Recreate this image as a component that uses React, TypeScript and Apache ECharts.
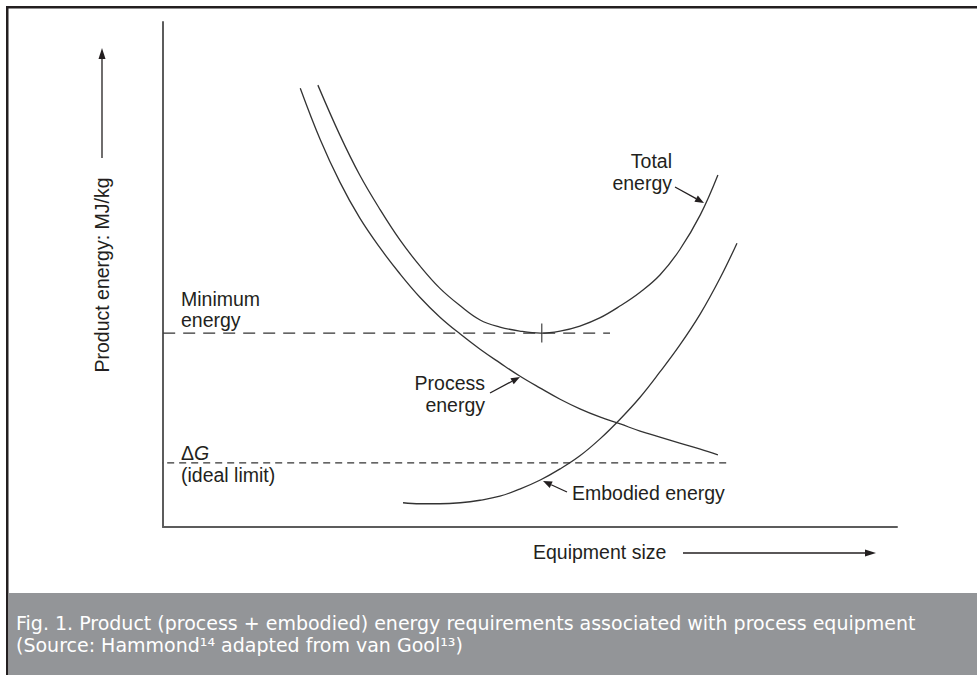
import React, { useEffect, useRef } from 'react';
import * as echarts from 'echarts';

// Curve values in arbitrary units (x: equipment size 0–100, y: product energy 0–100)
const processEnergy: [number, number][] = [
  [18.7, 86.9], [21.4, 76.8], [24.1, 68.3], [26.8, 61.2], [29.6, 55.2], [32.3, 50.1],
  [35.0, 45.5], [37.7, 41.6], [40.5, 38.2], [43.2, 35.2], [45.9, 32.5], [48.6, 29.9],
  [51.4, 27.5], [54.1, 25.3], [56.8, 23.4], [59.5, 21.8], [62.3, 20.4], [65.0, 19.0],
  [67.7, 17.8], [70.4, 16.6], [73.2, 15.4], [75.6, 14.3],
];
const totalEnergy: [number, number][] = [
  [21.1, 87.5], [24.1, 77.6], [26.8, 69.7], [29.6, 62.8], [32.3, 56.8], [35.0, 51.7],
  [37.7, 47.3], [40.5, 43.8], [43.2, 41.0], [45.9, 39.6], [48.6, 38.8], [51.4, 38.4],
  [54.1, 38.8], [56.8, 39.8], [59.5, 41.4], [62.3, 43.8], [65.0, 46.5], [67.7, 49.9],
  [70.4, 54.9], [73.2, 61.8], [75.6, 69.7],
];
const embodiedEnergy: [number, number][] = [
  [32.7, 4.8], [35.0, 4.6], [37.7, 4.6], [40.5, 4.8], [43.2, 5.3], [45.9, 6.1],
  [48.6, 7.5], [51.4, 9.3], [54.1, 11.5], [56.8, 14.1], [59.5, 17.4], [62.3, 21.4],
  [65.0, 25.7], [67.7, 30.7], [70.4, 36.0], [73.2, 42.2], [75.9, 49.3], [78.2, 56.2],
];
const minimumEnergyLine: [number, number][] = [[-2.7, 38.4], [60.9, 38.4]];
const idealLimitLine: [number, number][] = [[-2.7, 12.7], [77.2, 12.7]];
const minimumPoint: [number, number][] = [[51.6, 38.4]];

const yAxisTitle = 'Product energy: MJ/kg';
const xAxisTitle = 'Equipment size';
const captionLine1 = 'Fig. 1. Product (process + embodied) energy requirements associated with process equipment';
const captionLine2 = '(Source: Hammond¹⁴ adapted from van Gool¹³)';

const INK = '#231f20';
const FONT = '"Liberation Sans", Arial, sans-serif';
const CAPTION_FONT = '"DejaVu Sans", sans-serif';
const LABEL_SIZE = 19.5;

function arrow(x1: number, y1: number, x2: number, y2: number, head = 9, hw = 3.5) {
  const dx = x2 - x1;
  const dy = y2 - y1;
  const L = Math.hypot(dx, dy);
  const ux = dx / L;
  const uy = dy / L;
  const bx = x2 - ux * head;
  const by = y2 - uy * head;
  return [
    { type: 'line', shape: { x1, y1, x2: bx, y2: by }, style: { stroke: INK, lineWidth: 1.3 }, z: 10 },
    {
      type: 'polygon',
      shape: { points: [[x2, y2], [bx - uy * hw, by + ux * hw], [bx + uy * hw, by - ux * hw]] },
      style: { fill: INK },
      z: 10,
    },
  ];
}

function label(text: string, x: number, y: number, align = 'left') {
  return {
    type: 'text',
    x,
    y,
    z: 10,
    style: { text, fill: INK, fontSize: LABEL_SIZE, fontFamily: FONT, align, verticalAlign: 'middle' },
  };
}

function caption(text: string, y: number) {
  return {
    type: 'text',
    x: 16,
    y,
    z: 10,
    style: { text, fill: '#fff', fontSize: 19, fontFamily: CAPTION_FONT, verticalAlign: 'middle' },
  };
}

export default function App() {
  const ref = useRef<HTMLDivElement>(null);
  useEffect(() => {
    if (!ref.current) return;
    const chart = echarts.init(ref.current, undefined, { renderer: 'svg' });
    const curveStyle = { color: '#333', width: 1.3 };
    const option: any = {
      animation: false,
      backgroundColor: '#fff',
      grid: { left: 163, top: 22, width: 734, height: 505 },
      xAxis: {
        type: 'value', min: 0, max: 100,
        axisLine: { show: true, onZero: false, lineStyle: { color: '#5c5c5c', width: 2 } },
        axisTick: { show: false }, axisLabel: { show: false }, splitLine: { show: false },
      },
      yAxis: {
        type: 'value', min: 0, max: 100,
        axisLine: { show: true, onZero: false, lineStyle: { color: '#5c5c5c', width: 2 } },
        axisTick: { show: false }, axisLabel: { show: false }, splitLine: { show: false },
      },
      series: [
        { type: 'line', name: 'Process energy', data: processEnergy, smooth: 0.4, showSymbol: false, clip: false, lineStyle: curveStyle },
        { type: 'line', name: 'Total energy', data: totalEnergy, smooth: 0.4, showSymbol: false, clip: false, lineStyle: curveStyle },
        { type: 'line', name: 'Embodied energy', data: embodiedEnergy, smooth: 0.4, showSymbol: false, clip: false, lineStyle: curveStyle },
        { type: 'line', name: 'Minimum energy', data: minimumEnergyLine, showSymbol: false, clip: false, lineStyle: { color: '#333', width: 1.2, type: [12, 8] } },
        { type: 'line', name: 'Ideal limit', data: idealLimitLine, showSymbol: false, clip: false, lineStyle: { color: '#333', width: 1.2, type: [7, 5] } },
        { type: 'scatter', name: 'Minimum point', data: minimumPoint, symbol: 'rect', symbolSize: [1.4, 19], clip: false, itemStyle: { color: '#333' } },
      ],
      graphic: [
        // frame
        { type: 'rect', shape: { x: 6, y: 6, width: 971, height: 2.5 }, style: { fill: INK } },
        { type: 'rect', shape: { x: 6, y: 6, width: 2.5, height: 669 }, style: { fill: INK } },
        // caption band
        { type: 'rect', shape: { x: 8.5, y: 593, width: 969, height: 82 }, style: { fill: '#939598' } },
        caption(captionLine1, 623),
        caption(captionLine2, 645),
        // axis titles
        {
          type: 'text', x: 102, y: 275, rotation: Math.PI / 2,
          style: { text: yAxisTitle, fill: INK, fontSize: LABEL_SIZE, fontFamily: FONT, align: 'center', verticalAlign: 'middle' },
        },
        ...arrow(102, 158, 102, 48, 11, 3.5),
        label(xAxisTitle, 533, 552),
        ...arrow(683, 553, 876, 553, 11, 3.5),
        // annotations
        label('Minimum', 181, 299),
        label('energy', 181, 320),
        {
          type: 'text', x: 181, y: 453, z: 10,
          style: {
            text: '{d|Δ}{g|G}', verticalAlign: 'middle',
            rich: {
              d: { fontSize: LABEL_SIZE, fontFamily: FONT, fill: INK },
              g: { fontSize: LABEL_SIZE, fontFamily: FONT, fill: INK, fontStyle: 'italic' },
            },
          },
        },
        label('(ideal limit)', 181, 475),
        label('Total', 672, 161, 'right'),
        label('energy', 672, 183, 'right'),
        ...arrow(675, 187, 704, 203),
        label('Process', 485, 383, 'right'),
        label('energy', 485, 405, 'right'),
        ...arrow(490, 393, 520, 377),
        label('Embodied energy', 572, 493),
        ...arrow(567, 492, 543, 481),
      ],
    };
    chart.setOption(option);
    return () => chart.dispose();
  }, []);
  return <div ref={ref} style={{ position: 'fixed', left: 0, top: 0, width: 977, height: 675 }} />;
}
